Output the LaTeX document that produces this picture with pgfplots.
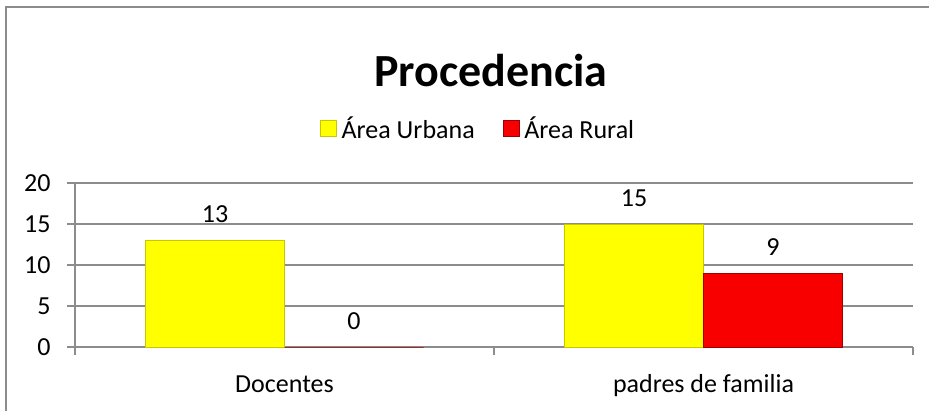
\documentclass[border=0pt]{standalone}
\usepackage{fontspec}
\setmainfont{Carlito}
\usepackage{pgfplots}
\pgfplotsset{compat=1.18}
\definecolor{gridgray}{HTML}{8C8C8C}
\definecolor{barY}{HTML}{FFFF00}
\definecolor{barYe}{HTML}{C8C800}
\definecolor{barR}{HTML}{F80000}
\definecolor{barRe}{HTML}{A00000}
\begin{document}
\begin{tikzpicture}[x=1pt,y=1pt]
\useasboundingbox (0,0) rectangle (929,410);
\draw[gridgray,line width=1.3pt] (6,-10) -- (6,403) -- (940,403);
\node[anchor=base,font=\fontsize{46}{50}\selectfont\bfseries] at (491,323) {Procedencia};
\begin{axis}[
  at={(75pt,63pt)}, anchor=south west,
  scale only axis, width=838pt, height=164pt,
  xmin=-0.5, xmax=1.5, ymin=0, ymax=20,
  ytick={0,5,10,15,20},
  xtick={0,1}, xticklabels={Docentes, padres de familia},
  minor xtick={-0.5,0.5,1.5},
  axis x line*=bottom, axis y line*=left,
  axis line style={gridgray,line width=1.3pt,-},
  ymajorgrids, grid style={gridgray,line width=1.3pt},
  tick align=outside, major tick length=8pt, minor tick length=8pt,
  y tick style={gridgray,line width=1.3pt},
  x tick style={gridgray,line width=1.3pt},
  major x tick style={draw=none},
  every tick label/.append style={font=\fontsize{26}{30}\selectfont},
  /pgf/number format/assume math mode=true,
  yticklabel style={xshift=-13pt},
  xticklabel style={anchor=base,yshift=-37pt},
  ybar=0pt, bar width=139pt,
  nodes near coords,
  every node near coord/.append style={font=\fontsize{26}{30}\selectfont,anchor=base,yshift=18pt,black},
  legend columns=2,
  legend style={at={(rel axis cs:0.481,1.335)},anchor=center,draw=none,fill=none,
    font=\fontsize{26}{30}\selectfont,
    /tikz/every even column/.append style={column sep=26pt}},
  legend image code/.code={\draw[#1,line width=0.6pt] (0pt,-8pt) rectangle (16pt,8pt); \path (19pt,0pt);},
  clip=false,
]
\addplot[fill=barY,draw=barYe,line width=0.8pt] coordinates {(0,13) (1,15)};
\addplot[fill=barR,draw=barRe,line width=0.8pt] coordinates {(0,0) (1,9)};
\legend{Área Urbana, Área Rural}
\end{axis}
\end{tikzpicture}
\end{document}
